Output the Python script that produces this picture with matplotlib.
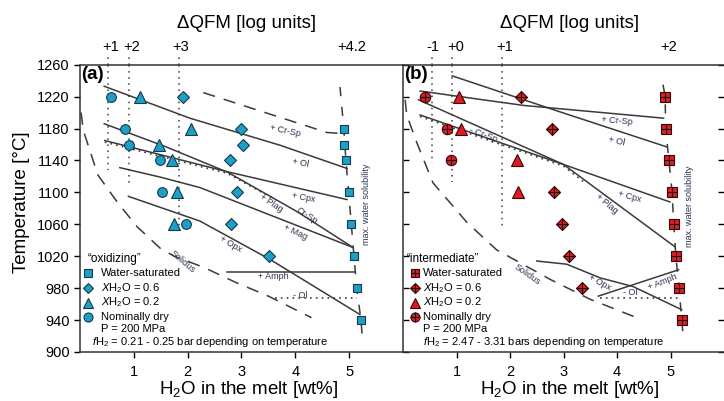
import matplotlib
matplotlib.use('Agg')
import matplotlib.pyplot as plt

plt.rcParams['font.family'] = ['Liberation Sans', 'DejaVu Sans']
plt.rcParams['mathtext.fontset'] = 'custom'
plt.rcParams['mathtext.rm'] = 'Liberation Sans'
plt.rcParams['mathtext.it'] = 'Liberation Sans:italic'
plt.rcParams['mathtext.bf'] = 'Liberation Sans:bold'

# ---------------- data ----------------
yticks = [900, 940, 980, 1020, 1060, 1100, 1140, 1180, 1220, 1260]
xticks = [1, 2, 3, 4, 5]

# panel (a) "oxidizing"
a_sat_x = [4.90, 4.91, 4.94, 4.99, 5.04, 5.09, 5.14, 5.22]
a_sat_T = [1180, 1160, 1140, 1100, 1060, 1020, 980, 940]
a_x06_x = [1.91, 3.00, 3.03, 2.79, 2.92, 2.80, 3.52]
a_x06_T = [1220, 1180, 1160, 1140, 1100, 1060, 1020]
a_x02_x = [1.11, 2.07, 1.47, 1.70, 1.80, 1.74]
a_x02_T = [1220, 1180, 1160, 1140, 1100, 1060]
a_dry_x = [0.57, 0.83, 0.91, 1.48, 1.52, 1.96]
a_dry_T = [1220, 1180, 1160, 1140, 1100, 1060]

a_qfm_labels = ['+1', '+2', '+3', '+4.2']
a_qfm_x = [0.56, 0.95, 1.86, 5.04]
a_dot_x = [0.52, 0.91, 1.84]
a_dot_Tmin = [1128, 1112, 1056]

a_ol_x = [0.45, 2.04, 3.72, 4.96]
a_ol_T = [1233, 1193, 1159, 1130]
a_plag_x = [0.45, 1.60, 2.75, 4.03, 5.07]
a_plag_T = [1186, 1157, 1125, 1076, 1031]
a_cpx_x = [0.46, 2.73, 4.96]
a_cpx_T = [1165, 1126, 1091]
a_crsp_dot_x = [0.46, 2.73, 3.60]
a_crsp_dot_T = [1163, 1124, 1092]
a_mag_x = [0.74, 1.50, 2.23, 5.07]
a_mag_T = [1131, 1119, 1106, 1031]
a_opx_x = [0.90, 2.23, 3.53, 5.20]
a_opx_T = [1095, 1064, 1016, 947]
a_crsp_x = [2.29, 4.59, 4.83]
a_crsp_T = [1225, 1175, 1174]
a_amph_x = [2.73, 5.11]
a_amph_T = [1000, 1000]
a_olout_x = [3.62, 5.15]
a_olout_T = [968, 968]
a_sol_x = [0.02, 0.06, 0.33, 0.69, 1.06, 1.49, 1.75, 2.30, 2.90, 3.50, 4.30]
a_sol_T = [1200, 1178, 1122, 1088, 1057, 1030, 1020, 1006, 987, 970, 943]
a_maxsol_x = [4.83, 4.90, 4.94, 4.99, 5.04, 5.09, 5.14, 5.22, 5.24]
a_maxsol_T = [1232, 1180, 1140, 1100, 1060, 1020, 980, 940, 922]

# panel (b) "intermediate"
b_sat_x = [4.90, 4.91, 4.97, 5.03, 5.06, 5.10, 5.16, 5.21]
b_sat_T = [1220, 1180, 1140, 1100, 1060, 1020, 980, 940]
b_x06_x = [2.21, 2.79, 2.82, 2.97, 3.10, 3.35]
b_x06_T = [1220, 1180, 1100, 1060, 1020, 980]
b_x02_x = [1.05, 1.08, 2.13, 2.15]
b_x02_T = [1220, 1180, 1140, 1100]
b_dry_x = [0.41, 0.82, 0.90]
b_dry_T = [1220, 1180, 1140]

b_qfm_labels = ['-1', '+0', '+1', '+2']
b_qfm_x = [0.56, 0.98, 1.90, 4.97]
b_dot_x = [0.54, 0.92, 1.85]
b_dot_Tmin = [1137, 1113, 1053]

b_ol_x = [0.92, 2.93, 4.93]
b_ol_T = [1246, 1201, 1157]
b_crsp_x = [0.32, 2.25, 4.87]
b_crsp_T = [1227, 1209, 1193]
b_plag_x = [0.29, 3.00, 5.08]
b_plag_T = [1216, 1135, 1032]
b_cpx_x = [0.32, 3.00, 4.99]
b_cpx_T = [1197, 1135, 1088]
b_crsp_dot_x = [0.32, 3.00, 3.40]
b_crsp_dot_T = [1195, 1133, 1112]
b_opx_x = [2.50, 3.06, 3.68, 4.30, 5.21]
b_opx_T = [1014, 1010, 993, 982, 953]
b_amph_x = [3.65, 5.15]
b_amph_T = [970, 1003]
b_olout_x = [3.68, 5.15]
b_olout_T = [968, 968]
b_sol_x = [0.04, 0.07, 0.26, 0.56, 1.20, 1.75, 2.75, 3.50, 4.37]
b_sol_T = [1216, 1197, 1162, 1112, 1062, 1028, 991, 966, 943]
b_maxsol_x = [4.86, 4.90, 4.91, 4.97, 5.03, 5.06, 5.10, 5.16, 5.21, 5.23]
b_maxsol_T = [1235, 1220, 1180, 1140, 1100, 1060, 1020, 980, 940, 925]

# ---------------- style ----------------
TEAL = '#1f9fc6'
TEAL_E = '#123a4a'
RED = '#e01b24'
RED_E = '#3a0505'
LC = '#3a3a3a'
LBL = '#2b3450'
LEGFS = 8

fig = plt.figure(figsize=(7.24, 4.01), dpi=100)
axa = fig.add_axes([80 / 724, 49 / 401, 323 / 724, 287.3 / 401])
axb = fig.add_axes([403 / 724, 49 / 401, 321 / 724, 287.3 / 401])

for ax in (axa, axb):
    ax.set_xlim(0, 6)
    ax.set_ylim(900, 1260)
    ax.set_xticks(xticks)
    ax.set_yticks(yticks)
    for s in ax.spines.values():
        s.set_linewidth(1.1)
        s.set_color('#333333')
    ax.tick_params(axis='x', direction='out', length=4, labelsize=10.5, width=1, pad=5)

axa.spines['right'].set_visible(False)
axa.tick_params(axis='y', direction='out', length=4, labelsize=10.5, width=1)
axb.spines['right'].set_visible(False)
axb.tick_params(axis='y', direction='in', length=4, width=1, labelleft=False,
                right=True, left=True)


def line(ax, x, T, ls='-', lw=1.1, dots=False):
    if dots:
        ax.plot(x, T, ls=(0, (1, 2.5)), lw=1.2, color=LC, zorder=2)
    else:
        ax.plot(x, T, ls=ls, lw=lw, color=LC, zorder=2)


def lab(ax, x, T, s, rot=0, size=6.5, **kw):
    ax.text(x, T, s, rotation=rot, fontsize=size, color=LBL, ha='center',
            va='center', rotation_mode='anchor', zorder=3, **kw)


def qfm(ax, labels, xs, dx, dTmin):
    for l, x in zip(labels, xs):
        ax.text(x, 1.062, l, transform=ax.get_xaxis_transform(), ha='center',
                va='center', fontsize=10.5)
    for x, tm in zip(dx, dTmin):
        ax.plot([x, x], [1260, tm], ls=(0, (1, 3)), lw=1.1, color=LC, zorder=1)
        ax.plot([x, x], [1.0, 1.035], ls=(0, (1, 3)), lw=1.1, color=LC,
                transform=ax.get_xaxis_transform(), clip_on=False)


# ---------------- panel (a) ----------------
qfm(axa, a_qfm_labels, a_qfm_x, a_dot_x, a_dot_Tmin)
line(axa, a_ol_x, a_ol_T)
line(axa, a_plag_x, a_plag_T)
line(axa, a_cpx_x, a_cpx_T)
line(axa, a_crsp_dot_x, a_crsp_dot_T, dots=True)
line(axa, a_mag_x, a_mag_T)
line(axa, a_opx_x, a_opx_T)
line(axa, a_crsp_x, a_crsp_T, ls=(0, (8, 6)))
line(axa, a_amph_x, a_amph_T)
line(axa, a_olout_x, a_olout_T, dots=True)
line(axa, a_sol_x, a_sol_T, ls=(0, (8, 6)))
line(axa, a_maxsol_x, a_maxsol_T, ls=(0, (6, 7)))

ms = dict(mec=TEAL_E, mew=0.8, mfc=TEAL, ls='none', zorder=4)
axa.plot(a_sat_x, a_sat_T, 's', ms=6, **ms)
axa.plot(a_x06_x, a_x06_T, 'D', ms=6, **ms)
axa.plot(a_x02_x, a_x02_T, '^', ms=8, **ms)
axa.plot(a_dry_x, a_dry_T, 'o', ms=7, **ms)

lab(axa, 3.81, 1177, '+ Cr-Sp', rot=-12)
lab(axa, 4.09, 1137, '+ Ol', rot=-10)
lab(axa, 4.15, 1094, '+ Cpx', rot=-10)
lab(axa, 3.56, 1086, '+ Plag', rot=-33)
lab(axa, 4.21, 1071, 'Cr-Sp', rot=-33)
lab(axa, 4.00, 1050, '+ Mag', rot=-25)
lab(axa, 2.79, 1035, '+ Opx', rot=-30)
lab(axa, 3.59, 994, '+ Amph')
lab(axa, 4.09, 971, '- Ol')
lab(axa, 1.90, 1013, 'Solidus', rot=-40)
lab(axa, 5.33, 1085, 'max. water solubility', rot=90)

axa.text(0.005, 0.995, '(a)', transform=axa.transAxes, fontsize=13.5,
         fontweight='bold', ha='left', va='top')

# legend (a)
axa.text(0.025, 0.324, '\u201coxidizing\u201d', transform=axa.transAxes,
         fontsize=8.5, va='center', ha='left')
leg_y = [0.274, 0.222, 0.172, 0.122]
leg_m = ['s', 'D', '^', 'o']
leg_s = [5.5, 5.5, 7.5, 6.5]
leg_t = ['Water-saturated', '$X$H$_2$O = 0.6', '$X$H$_2$O = 0.2', 'Nominally dry']
for yy, m, s, t in zip(leg_y, leg_m, leg_s, leg_t):
    axa.plot([0.025], [yy], m, ms=s, transform=axa.transAxes, clip_on=False, **ms)
    axa.text(0.065, yy, t, transform=axa.transAxes, fontsize=LEGFS, va='center')
axa.text(0.065, 0.079, 'P = 200 MPa', transform=axa.transAxes, fontsize=LEGFS, va='center')
axa.text(0.037, 0.034, '$f$H$_2$ = 0.21 - 0.25 bar depending on temperature',
         transform=axa.transAxes, fontsize=LEGFS, va='center')

# ---------------- panel (b) ----------------
qfm(axb, b_qfm_labels, b_qfm_x, b_dot_x, b_dot_Tmin)
line(axb, b_ol_x, b_ol_T)
line(axb, b_crsp_x, b_crsp_T)
line(axb, b_plag_x, b_plag_T)
line(axb, b_cpx_x, b_cpx_T)
line(axb, b_crsp_dot_x, b_crsp_dot_T, dots=True)
line(axb, b_opx_x, b_opx_T)
line(axb, b_amph_x, b_amph_T)
line(axb, b_olout_x, b_olout_T, dots=True)
line(axb, b_sol_x, b_sol_T, ls=(0, (8, 6)))
line(axb, b_maxsol_x, b_maxsol_T, ls=(0, (6, 7)))

mr = dict(mec=RED_E, mew=0.8, mfc=RED, ls='none', zorder=4)
cr = dict(color='#111111', mew=0.8, ls='none', zorder=5)
axb.plot(b_sat_x, b_sat_T, 's', ms=7, **mr)
axb.plot(b_sat_x, b_sat_T, '+', ms=7, **cr)
axb.plot(b_x06_x, b_x06_T, 'D', ms=6.5, **mr)
axb.plot(b_x06_x, b_x06_T, '+', ms=8, **cr)
axb.plot(b_x02_x, b_x02_T, '^', ms=8, **mr)
axb.plot(b_dry_x, b_dry_T, 'o', ms=7.5, **mr)
axb.plot(b_dry_x, b_dry_T, '+', ms=7.5, **cr)

lab(axb, 4.00, 1189, '+ Cr-Sp', rot=-5)
lab(axb, 4.00, 1164, '+ Ol', rot=-12)
lab(axb, 1.50, 1172, '- Cr-Sp', rot=-20)
lab(axb, 4.24, 1094, '+ Cpx', rot=-15)
lab(axb, 3.81, 1086, '+ Plag', rot=-40)
lab(axb, 2.32, 997, 'Solidus', rot=-35)
lab(axb, 3.68, 987, '+ Opx', rot=-28)
lab(axb, 4.86, 988, '+ Amph', rot=22)
lab(axb, 4.24, 974, '- Ol')
lab(axb, 5.36, 1082, 'max. water solubility', rot=90)

axb.text(0.005, 0.995, '(b)', transform=axb.transAxes, fontsize=13.5,
         fontweight='bold', ha='left', va='top')

axb.text(0.012, 0.324, '\u201cintermediate\u201d', transform=axb.transAxes,
         fontsize=8.5, va='center', ha='left')
for yy, m, s, t in zip(leg_y, leg_m, leg_s, leg_t):
    axb.plot([0.037], [yy], m, ms=s, transform=axb.transAxes, clip_on=False, **mr)
    if m != '^':
        axb.plot([0.037], [yy], '+', ms=s, transform=axb.transAxes, clip_on=False, **cr)
    axb.text(0.062, yy, t, transform=axb.transAxes, fontsize=LEGFS, va='center')
axb.text(0.062, 0.079, 'P = 200 MPa', transform=axb.transAxes, fontsize=LEGFS, va='center')
axb.text(0.062, 0.034, '$f$H$_2$ = 2.47 - 3.31 bars depending on temperature',
         transform=axb.transAxes, fontsize=LEGFS, va='center')

# ---------------- axis titles ----------------
fig.text(247 / 724, 1 - 23 / 401, '\u0394QFM [log units]', ha='center', va='center', fontsize=13.5)
fig.text(570 / 724, 1 - 23 / 401, '\u0394QFM [log units]', ha='center', va='center', fontsize=13.5)
fig.text(249 / 724, 1 - 390 / 401, 'H$_2$O in the melt [wt%]', ha='center', va='center', fontsize=13.5)
fig.text(570 / 724, 1 - 390 / 401, 'H$_2$O in the melt [wt%]', ha='center', va='center', fontsize=13.5)
fig.text(22 / 724, 1 - 202 / 401, 'Temperature [\u00b0C]', ha='center', va='center',
         fontsize=13.5, rotation=90)

fig.savefig('out.png', dpi=100)
